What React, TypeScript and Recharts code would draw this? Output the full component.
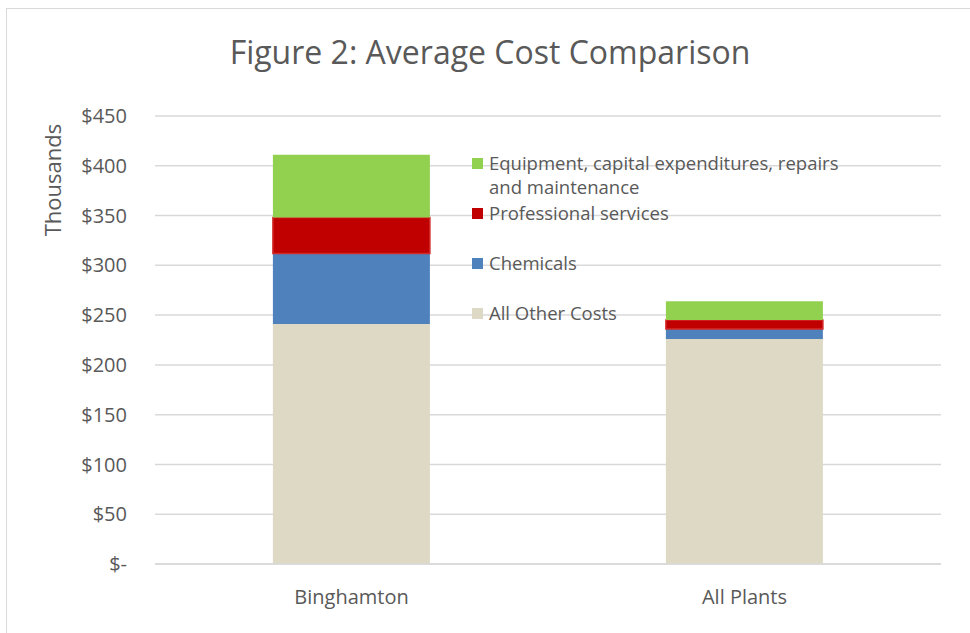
import React from "react";
import { BarChart, Bar, XAxis, YAxis, CartesianGrid } from "recharts";

// values in thousands of dollars
const plants = ["Binghamton", "All Plants"];
const otherCosts = [241, 226];
const chemicals = [71, 10];
const professional = [36, 9];
const equipment = [63, 19];

const yTicks = [0, 50, 100, 150, 200, 250, 300, 350, 400, 450];

const SERIES = [
  { key: "other", name: "All Other Costs", color: "#DDD9C4", values: otherCosts },
  { key: "chem", name: "Chemicals", color: "#4F81BD", values: chemicals },
  { key: "prof", name: "Professional services", color: "#C00000", values: professional },
  { key: "equip", name: "Equipment, capital expenditures, repairs and maintenance", color: "#92D050", values: equipment },
];

const data = plants.map((p, i) => {
  const row: any = { plant: p };
  SERIES.forEach((s) => (row[s.key] = s.values[i]));
  return row;
});

const FONT = "'Open Sans', sans-serif";
const GREY = "#595959";

const fmt = (v: number) => (v === 0 ? "$-" : `$${v}`);

// legend is listed top series first, like excel does
const CustomLegend = () => {
  const items = [...SERIES].reverse();
  return (
    <div style={{ fontFamily: FONT, fontSize: 18.5, color: GREY }}>
      {items.map((s) => {
        const words = s.name.split(" ");
        const long = words.length > 4;
        return (
          <div key={s.key} style={{ height: 50, display: "flex", alignItems: "flex-start" }}>
            <span
              style={{
                display: "inline-block",
                width: 11,
                height: 11,
                background: s.color,
                marginTop: 7,
                marginRight: 6,
                flex: "none",
              }}
            />
            <span style={{ lineHeight: "24px", whiteSpace: "nowrap" }}>
              {long ? (
                <>
                  {words.slice(0, 4).join(" ")}
                  <br />
                  {words.slice(4).join(" ")}
                </>
              ) : (
                s.name
              )}
            </span>
          </div>
        );
      })}
    </div>
  );
};

export default function App() {
  return (
    <div style={{ position: "absolute", left: 0, top: 0, width: 970, height: 633, background: "#fff", overflow: "hidden" }}>
      <div
        style={{
          position: "absolute",
          left: 6,
          top: 8,
          width: 980,
          height: 640,
          border: "1.5px solid #d9d9d9",
        }}
      />
      <div
        style={{
          position: "absolute",
          left: 0,
          width: 980,
          top: 28,
          textAlign: "center",
          fontFamily: FONT,
          fontSize: 32,
          color: GREY,
          lineHeight: "48px",
        }}
      >
        Figure 2: Average Cost Comparison
      </div>
      <div
        style={{
          position: "absolute",
          left: 52,
          top: 180,
          transform: "translate(-50%, -50%) rotate(-90deg)",
          fontFamily: FONT,
          fontSize: 22,
          color: GREY,
          whiteSpace: "nowrap",
        }}
      >
        Thousands
      </div>
      <BarChart
        width={970}
        height={633}
        data={data}
        margin={{ top: 116, right: 29, left: 75, bottom: 19 }}
        barCategoryGap="30%"
        style={{ position: "absolute", left: 0, top: 0 }}
      >
        <CartesianGrid vertical={false} stroke="#d9d9d9" strokeWidth={1.5} />
        <XAxis
          dataKey="plant"
          height={50}
          axisLine={{ stroke: "#d9d9d9", strokeWidth: 1.5 }}
          tickLine={false}
          tickMargin={20}
          tick={{ fill: GREY, fontFamily: FONT, fontSize: 20 }}
        />
        <YAxis
          width={80}
          domain={[0, 450]}
          ticks={yTicks}
          tickFormatter={fmt}
          axisLine={false}
          tickLine={false}
          tickSize={0}
          tickMargin={28}
          tick={{ fill: GREY, fontFamily: FONT, fontSize: 20 }}
          interval={0}
        />
        {SERIES.map((s) => (
          <Bar
            key={s.key}
            dataKey={s.key}
            name={s.name}
            stackId="a"
            fill={s.color}
            stroke={s.key === "prof" ? "#D42A2A" : "none"}
            strokeWidth={s.key === "prof" ? 1.5 : 0}
            isAnimationActive={false}
          />
        ))}
      </BarChart>
      <div style={{ position: "absolute", left: 472, top: 151 }}>
        <CustomLegend />
      </div>
    </div>
  );
}
